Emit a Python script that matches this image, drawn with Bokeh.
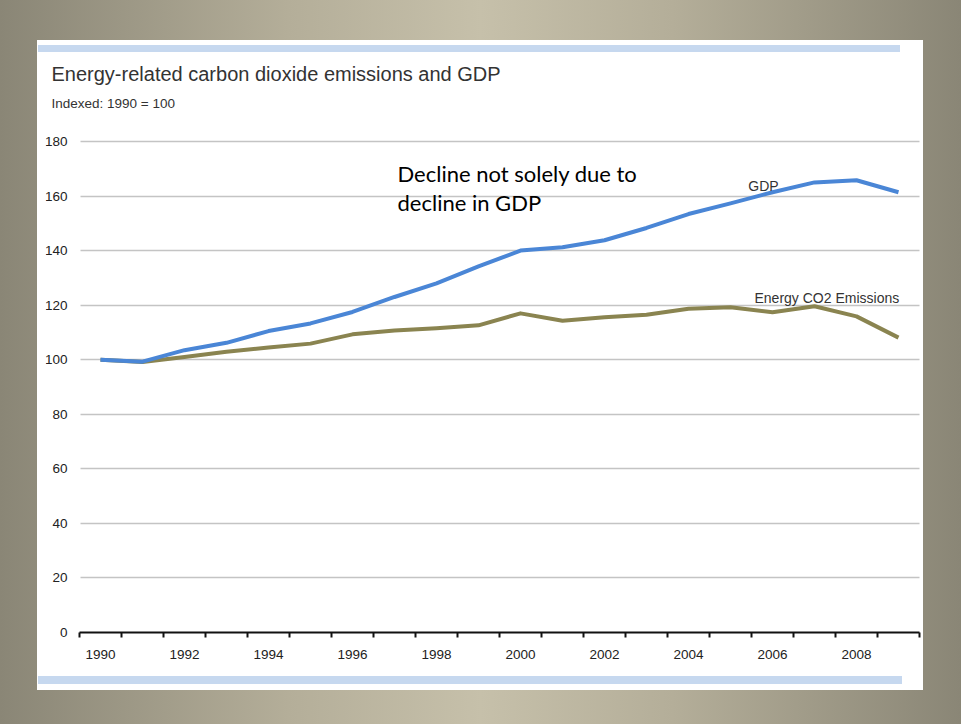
from bokeh.plotting import figure
from bokeh.models import Range1d, FixedTicker, Label
from bokeh.embed import file_html
from bokeh.resources import INLINE

# ---- data ----
years = list(range(1990, 2010))
gdp = [100, 99.3, 103.5, 106.2, 110.5, 113.3, 117.5, 123.0, 128.0, 134.2,
       140.0, 141.2, 143.8, 148.3, 153.4, 157.3, 161.4, 165.0, 165.8, 161.4]
co2 = [100, 99.2, 101.0, 102.9, 104.5, 105.9, 109.3, 110.7, 111.5, 112.6,
       117.0, 114.3, 115.6, 116.5, 118.7, 119.2, 117.4, 119.6, 115.9, 108.1]
y_ticks = [0, 20, 40, 60, 80, 100, 120, 140, 160, 180]
x_label_years = [1990, 1992, 1994, 1996, 1998, 2000, 2002, 2004, 2006, 2008]

title_text = "Energy-related carbon dioxide emissions and GDP"
subtitle_text = "Indexed: 1990 = 100"
callout_lines = ["Decline not solely due to", "decline in GDP"]

W, H = 961, 724
# plotting area in page px (axis box) and full frame in page px
AL, AR, AT, AB = 79, 919, 141, 632
FL, FR, FT, FB = 45, 922, 40, 672

px_per_year = (AR - AL) / len(years)
px_per_unit = (AB - AT) / 180.0
x0 = years[0] - 0.5
x1 = years[-1] + 0.5

p = figure(width=W, height=H, output_backend="svg", toolbar_location=None,
           x_range=Range1d(x0 - (AL - FL) / px_per_year, x1 + (FR - AR) / px_per_year),
           y_range=Range1d(-(FB - AB) / px_per_unit, (AB - FT) / px_per_unit),
           min_border_left=FL, min_border_right=W - FR,
           min_border_top=FT, min_border_bottom=H - FB)
p.title.visible = False
p.border_fill_color = None
p.background_fill_color = None
p.outline_line_color = None
p.styles = {
    "background": (
        "linear-gradient(#c6d8ef,#c6d8ef) 38px 45px / 862px 7px no-repeat,"
        "linear-gradient(#c6d8ef,#c6d8ef) 38px 676px / 864px 8px no-repeat,"
        "linear-gradient(#ffffff,#ffffff) 37px 40px / 886px 650px no-repeat,"
        "linear-gradient(to right, #8a8676 0%, #b4ae99 30%, #c6c0aa 50%, #b4ae99 70%, #8a8676 100%)"
    )
}


def px_x(px):
    return x0 + (px - AL) / px_per_year


def px_y(py):
    return (AB - py) / px_per_unit


xa = p.xaxis[0]
xa.fixed_location = 0
xa.bounds = (x0, x1)
xa.ticker = FixedTicker(ticks=x_label_years,
                        minor_ticks=[y - 0.5 for y in years] + [x1])
xa.axis_line_color = "#111111"
xa.axis_line_width = 2
xa.major_tick_line_color = None
xa.major_tick_out = 0
xa.major_tick_in = 0
xa.minor_tick_line_color = "#111111"
xa.minor_tick_line_width = 2
xa.minor_tick_out = 5
xa.minor_tick_in = 0
xa.major_label_standoff = 12
xa.major_label_text_font = "Liberation Sans"
xa.major_label_text_font_size = "13.5px"
xa.major_label_text_color = "#222222"

ya = p.yaxis[0]
ya.fixed_location = x0
ya.ticker = FixedTicker(ticks=y_ticks)
ya.axis_line_color = None
ya.major_tick_line_color = None
ya.major_tick_out = 0
ya.major_tick_in = 0
ya.minor_tick_line_color = None
ya.major_label_standoff = 12
ya.major_label_text_font = "Liberation Sans"
ya.major_label_text_font_size = "13.5px"
ya.major_label_text_color = "#222222"

p.xgrid.visible = False
p.ygrid.ticker = FixedTicker(ticks=y_ticks[1:])
p.ygrid.cross_bounds = (x0 + 0.03, x1)
p.ygrid.grid_line_color = "#c4c4c4"
p.ygrid.grid_line_width = 1.6

p.line(years, co2, line_color="#8a8450", line_width=4, line_join="round")
p.line(years, gdp, line_color="#4a86d6", line_width=4, line_join="round")

p.add_layout(Label(x=px_x(763), y=px_y(185), text="GDP", text_align="center",
                   text_baseline="middle", text_font="Liberation Sans",
                   text_font_size="14px", text_color="#333333"))
p.add_layout(Label(x=px_x(754), y=px_y(297), text="Energy CO2 Emissions",
                   text_align="left", text_baseline="middle",
                   text_font="Liberation Sans", text_font_size="14px",
                   text_color="#333333"))

for i, line in enumerate(callout_lines):
    p.add_layout(Label(x=px_x(397), y=px_y(173 + 29 * i), text=line,
                       text_align="left", text_baseline="middle",
                       text_font="Lato", text_font_size="22px",
                       text_color="#000000"))

p.add_layout(Label(x=px_x(51), y=px_y(73), text=title_text, text_align="left",
                   text_baseline="middle", text_font="Liberation Sans",
                   text_font_size="20px", text_color="#333333"))
p.add_layout(Label(x=px_x(51), y=px_y(103), text=subtitle_text, text_align="left",
                   text_baseline="middle", text_font="Liberation Sans",
                   text_font_size="13.5px", text_color="#333333"))

open("out.html", "w").write(file_html(p, INLINE))
